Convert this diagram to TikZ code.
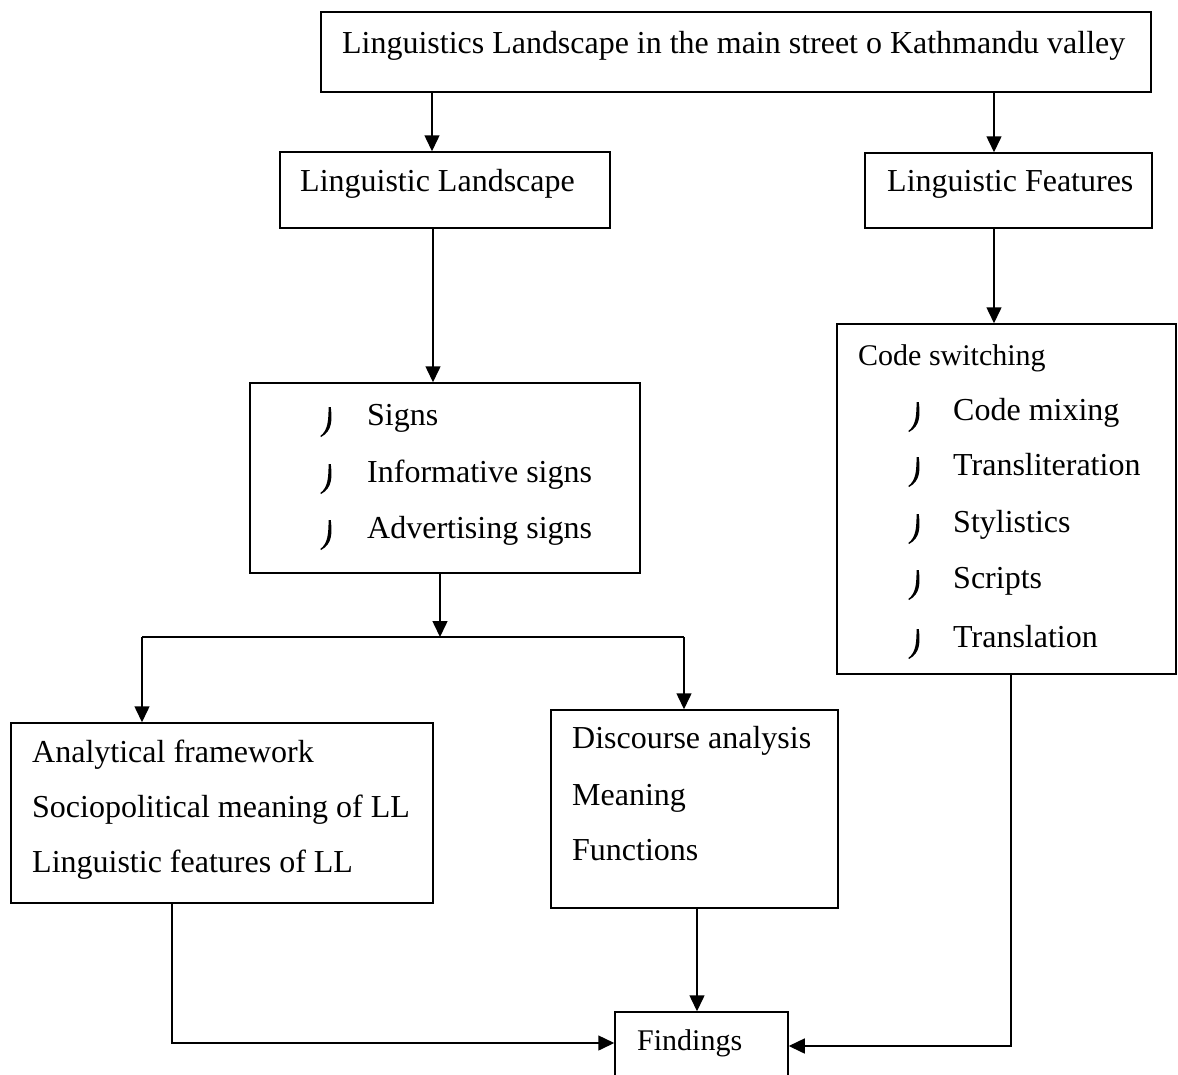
\documentclass[tikz,border=0pt]{standalone}
\usepackage{fontspec}
\setmainfont{Liberation Serif}
\usetikzlibrary{arrows.meta}
\tikzset{
  box/.style={draw, line width=1.5pt, inner sep=0pt, fill=none},
  txt/.style={anchor=base west, inner sep=0pt, font=\fontsize{32}{38}\selectfont},
  txtb/.style={anchor=base west, inner sep=0pt, font=\fontsize{30}{36}\selectfont},
  conn/.style={line width=1.5pt},
  arr/.style={line width=1.5pt, -{Triangle[length=16pt,width=15pt]}},
  hk/.pic={\fill (0.8,-19) .. controls (2.2,-6) and (2.4,5) .. (-9,11)
               -- (-9.6,10) .. controls (-1.8,4) and (-1.6,-6) .. (-1.4,-19) -- cycle;}
}
\begin{document}
\begin{tikzpicture}[x=1pt,y=-1pt]
\useasboundingbox (0,0) rectangle (1178,1074);
\clip (0,0) rectangle (1178,1074);
\fill[white] (0,0) rectangle (1178,1074);

% boxes
\node[box, minimum width=830pt, minimum height=80pt] (top) at (736,52) {};
\node[box, minimum width=330pt, minimum height=76pt] (ll) at (445,190) {};
\node[box, minimum width=287pt, minimum height=75pt] (lf) at (1008.5,190.5) {};
\node[box, minimum width=390pt, minimum height=190pt] (signs) at (445,478) {};
\node[box, minimum width=339pt, minimum height=350pt] (cs) at (1006.5,499) {};
\node[box, minimum width=422pt, minimum height=180pt] (af) at (222,813) {};
\node[box, minimum width=287pt, minimum height=198pt] (da) at (694.5,809) {};
\node[box, minimum width=173pt, minimum height=88pt] (fnd) at (701.5,1056) {};

% texts
\node[txt] (ttop) at (342,53) {\resizebox{783pt}{\height}{Linguistics Landscape in the main street o Kathmandu valley}};
\node[txt] (tll) at (300,191) {Linguistic Landscape};
\node[txt] (tlf) at (887,191) {Linguistic Features};

\node[txt] (s1) at (367,425) {Signs};
\node[txt] (s2) at (367,482) {Informative signs};
\node[txt] (s3) at (367,538) {Advertising signs};
\pic at (330,426) {hk};
\pic at (330,483) {hk};
\pic at (330,539) {hk};

\node[txtb] (c0) at (858,365) {Code switching};
\node[txt] (c1) at (953,420) {Code mixing};
\node[txt] (c2) at (953,475) {Transliteration};
\node[txt] (c3) at (953,532) {Stylistics};
\node[txt] (c4) at (953,588) {Scripts};
\node[txt] (c5) at (953,647) {Translation};
\pic at (918,421) {hk};
\pic at (918,476) {hk};
\pic at (918,533) {hk};
\pic at (918,589) {hk};
\pic at (918,648) {hk};

\node[txt] (a1) at (32,762) {Analytical framework};
\node[txt] (a2) at (32,817) {Sociopolitical meaning of LL};
\node[txt] (a3) at (32,872) {Linguistic features of LL};

\node[txt] (d1) at (572,748) {Discourse analysis};
\node[txt] (d2) at (572,805) {Meaning};
\node[txt] (d3) at (572,860) {Functions};

\node[txtb] (tf) at (637,1050) {Findings};

% routing coordinates
\coordinate (xa) at (432,0);
\coordinate (xb) at (994,0);
\coordinate (xc) at (433,0);
\coordinate (xs) at (440,0);
\coordinate (ysplit) at (0,637);
\coordinate (xl) at (142,0);
\coordinate (xr) at (684,0);
\coordinate (xaf) at (172,0);
\coordinate (xda) at (697,0);
\coordinate (xcs) at (1011,0);
\coordinate (yl) at (0,1043);
\coordinate (yr) at (0,1046);
\coordinate (sp) at (440,637);

% connectors
\draw[arr] (top.south -| xa) -- (ll.north -| xa);
\draw[arr] (top.south -| xb) -- (lf.north -| xb);
\draw[arr] (ll.south -| xc) -- (signs.north -| xc);
\draw[arr] (lf.south -| xb) -- (cs.north -| xb);
\draw[arr] (signs.south -| xs) -- (sp);
\draw[conn] (xl |- ysplit) -- (xr |- ysplit);
\draw[arr] (xl |- ysplit) -- (af.north -| xl);
\draw[arr] (xr |- ysplit) -- (da.north -| xr);
\draw[arr] (af.south -| xaf) -- (xaf |- yl) -- (fnd.west |- yl);
\draw[arr] (da.south -| xda) -- (fnd.north -| xda);
\draw[arr] (cs.south -| xcs) -- (xcs |- yr) -- (fnd.east |- yr);
\end{tikzpicture}
\end{document}
